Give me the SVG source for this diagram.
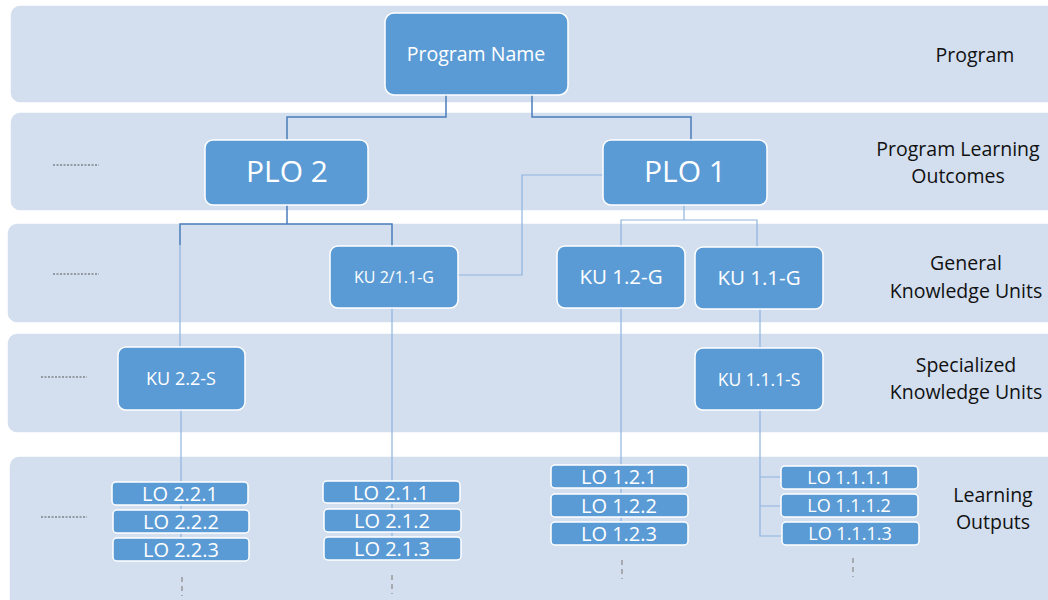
<svg xmlns="http://www.w3.org/2000/svg" width="1048" height="600" viewBox="0 0 1048 600">
<style>
.band{fill:#d3dfef;stroke:#ffffff;stroke-width:1.5}
.node rect{fill:#5b9bd5;stroke:#ffffff;stroke-width:1.5}
.node text{fill:#ffffff;font-family:"Open Sans","Noto Sans",sans-serif;text-anchor:middle;dominant-baseline:central}
.lbl{fill:#111111;font-family:"Open Sans","Noto Sans",sans-serif;font-size:19.5px;text-anchor:middle}
.dk{fill:none;stroke:#4a7ebb;stroke-width:1.5}
.lt{fill:none;stroke:#8fb3e0;stroke-width:1.2}
.dot{stroke:#555555;stroke-width:1;stroke-dasharray:2 1.5}
.dash{stroke:#999999;stroke-width:1.5;stroke-dasharray:5 4}
</style>
<rect width="1048" height="600" fill="#ffffff"/>
<g id="bands">
<rect class="band" x="10" y="5" width="1050" height="98" rx="10"/>
<rect class="band" x="10" y="112" width="1050" height="99" rx="10"/>
<rect class="band" x="7" y="223" width="1053" height="100" rx="10"/>
<rect class="band" x="7" y="333" width="1053" height="100" rx="10"/>
<rect class="band" x="9" y="456" width="1051" height="160" rx="10"/>
</g>
<g id="connectors">
<path class="dk" d="M446,95 V117 H287 V140"/>
<path class="dk" d="M532,95 V117 H691 V140"/>
<path class="dk" d="M287,205 V224 M180,245 V224 H392 V246"/>
<path class="lt" d="M180,245 V347"/>
<path class="lt" d="M603,175 H522 V275 H458"/>
<path class="lt" d="M684,205 V220 M621,246 V220 H757 V247"/>
<path class="lt" d="M181,410 V560"/>
<path class="lt" d="M392,308 V560"/>
<path class="lt" d="M621,308 V545"/>
<path class="lt" d="M760,309 V348"/>
<path class="lt" d="M760,410 V536 H781 M760,477 H781 M760,506 H781"/>
<line class="dash" x1="182" y1="577" x2="182" y2="596"/>
<line class="dash" x1="392" y1="575" x2="392" y2="594"/>
<line class="dash" x1="622" y1="560" x2="622" y2="579"/>
<line class="dash" x1="853" y1="558" x2="853" y2="577"/>
<line class="dot" x1="53" y1="165" x2="99" y2="165"/>
<line class="dot" x1="53" y1="274" x2="99" y2="274"/>
<line class="dot" x1="41" y1="377" x2="87" y2="377"/>
<line class="dot" x1="41" y1="517" x2="87" y2="517"/>
</g>
<g id="n-program" class="node"><rect x="385" y="13" width="183" height="82" rx="9"/><text x="476" y="53" font-size="19.5">Program Name</text></g>
<g id="n-plo2" class="node"><rect x="205" y="140" width="163" height="65" rx="8"/><text x="287" y="170" font-size="30">PLO 2</text></g>
<g id="n-plo1" class="node"><rect x="603" y="140" width="164" height="65" rx="8"/><text x="685" y="170" font-size="30">PLO 1</text></g>
<g id="n-ku211g" class="node"><rect x="330" y="246" width="128" height="62" rx="8"/><text x="394" y="277" font-size="16">KU 2/1.1-G</text></g>
<g id="n-ku12g" class="node"><rect x="557" y="246" width="128" height="62" rx="8"/><text x="621" y="276" font-size="20.5">KU 1.2-G</text></g>
<g id="n-ku11g" class="node"><rect x="695" y="247" width="128" height="62" rx="8"/><text x="759" y="277" font-size="20.5">KU 1.1-G</text></g>
<g id="n-ku22s" class="node"><rect x="118" y="347" width="127" height="63" rx="8"/><text x="181" y="378" font-size="18">KU 2.2-S</text></g>
<g id="n-ku111s" class="node"><rect x="695" y="348" width="128" height="62" rx="8"/><text x="759" y="379" font-size="17.5">KU 1.1.1-S</text></g>
<g id="n-lo221" class="node"><rect x="112" y="482" width="136" height="23" rx="4"/><text x="180" y="493" font-size="20">LO 2.2.1</text></g>
<g id="n-lo222" class="node"><rect x="113" y="510" width="136" height="23" rx="4"/><text x="181" y="521" font-size="20">LO 2.2.2</text></g>
<g id="n-lo223" class="node"><rect x="113" y="538" width="136" height="23" rx="4"/><text x="181" y="549" font-size="20">LO 2.2.3</text></g>
<g id="n-lo211" class="node"><rect x="323" y="481" width="137" height="22" rx="4"/><text x="391" y="492" font-size="20">LO 2.1.1</text></g>
<g id="n-lo212" class="node"><rect x="324" y="509" width="137" height="23" rx="4"/><text x="392" y="520" font-size="20">LO 2.1.2</text></g>
<g id="n-lo213" class="node"><rect x="324" y="537" width="137" height="23" rx="4"/><text x="392" y="548" font-size="20">LO 2.1.3</text></g>
<g id="n-lo121" class="node"><rect x="551" y="465" width="137" height="23" rx="4"/><text x="619" y="476" font-size="20">LO 1.2.1</text></g>
<g id="n-lo122" class="node"><rect x="551" y="494" width="137" height="23" rx="4"/><text x="619" y="505" font-size="20">LO 1.2.2</text></g>
<g id="n-lo123" class="node"><rect x="551" y="522" width="137" height="23" rx="4"/><text x="619" y="533" font-size="20">LO 1.2.3</text></g>
<g id="n-lo1111" class="node"><rect x="781" y="466" width="137" height="23" rx="4"/><text x="849" y="477" font-size="18">LO 1.1.1.1</text></g>
<g id="n-lo1112" class="node"><rect x="781" y="494" width="137" height="23" rx="4"/><text x="849" y="505" font-size="18">LO 1.1.1.2</text></g>
<g id="n-lo1113" class="node"><rect x="782" y="522" width="137" height="23" rx="4"/><text x="850" y="533" font-size="18">LO 1.1.1.3</text></g>
<g id="labels">
<text class="lbl" x="975" y="62">Program</text>
<text class="lbl" x="958" y="156">Program Learning</text>
<text class="lbl" x="958" y="183">Outcomes</text>
<text class="lbl" x="966" y="270">General</text>
<text class="lbl" x="966" y="298">Knowledge Units</text>
<text class="lbl" x="966" y="372">Specialized</text>
<text class="lbl" x="966" y="399">Knowledge Units</text>
<text class="lbl" x="993" y="502">Learning</text>
<text class="lbl" x="993" y="529">Outputs</text>
</g>
</svg>
